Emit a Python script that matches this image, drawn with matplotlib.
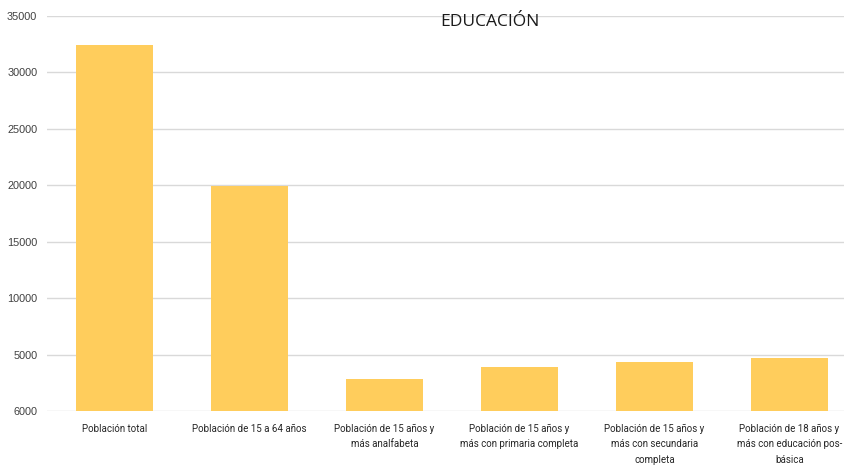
import matplotlib
matplotlib.use("Agg")
import matplotlib.pyplot as plt

categories = [
    "Población total",
    "Población de 15 a 64 años",
    "Población de 15 años y\nmás analfabeta",
    "Población de 15 años y\nmás con primaria completa",
    "Población de 15 años y\nmás con secundaria\ncompleta",
    "Población de 18 años y\nmás con educación pos-\nbásica",
]
values = [32400, 19950, 2850, 3900, 4350, 4700]
ytick_values = [0, 5000, 10000, 15000, 20000, 25000, 30000, 35000]
ytick_labels = ["6000", "5000", "10000", "15000", "20000", "25000", "30000", "35000"]
title = "EDUCACIÓN"

fig = plt.figure(figsize=(8.45, 4.68), dpi=100)
ax = fig.add_axes([47/845, (468-411)/468, 810/845, (411-16)/468])
x = list(range(len(categories)))
ax.bar(x, values, width=0.57, color="#FFCD5C", zorder=2)
ax.set_xlim(-0.5, len(categories) - 0.5)
ax.set_ylim(0, 35000)
ax.set_yticks(ytick_values)
ax.set_yticklabels(ytick_labels, family="Liberation Sans", fontsize=7.8, color="#404040")
ax.set_xticks(x)
ax.set_xticklabels(categories, family="Roboto", fontsize=7.0, color="#262626", linespacing=1.7)
ax.tick_params(axis="both", length=0)
ax.tick_params(axis="y", pad=7)
ax.tick_params(axis="x", pad=9)
ax.grid(axis="y", color="#d9d9d9", linewidth=1, zorder=0)
for s in ax.spines.values():
    s.set_visible(False)
fig.text(490/845, 1 - 22/468, title, ha="center", va="center", fontsize=12.5, family="Open Sans", color="#1a1a1a")
fig.savefig("out.png", dpi=100)
